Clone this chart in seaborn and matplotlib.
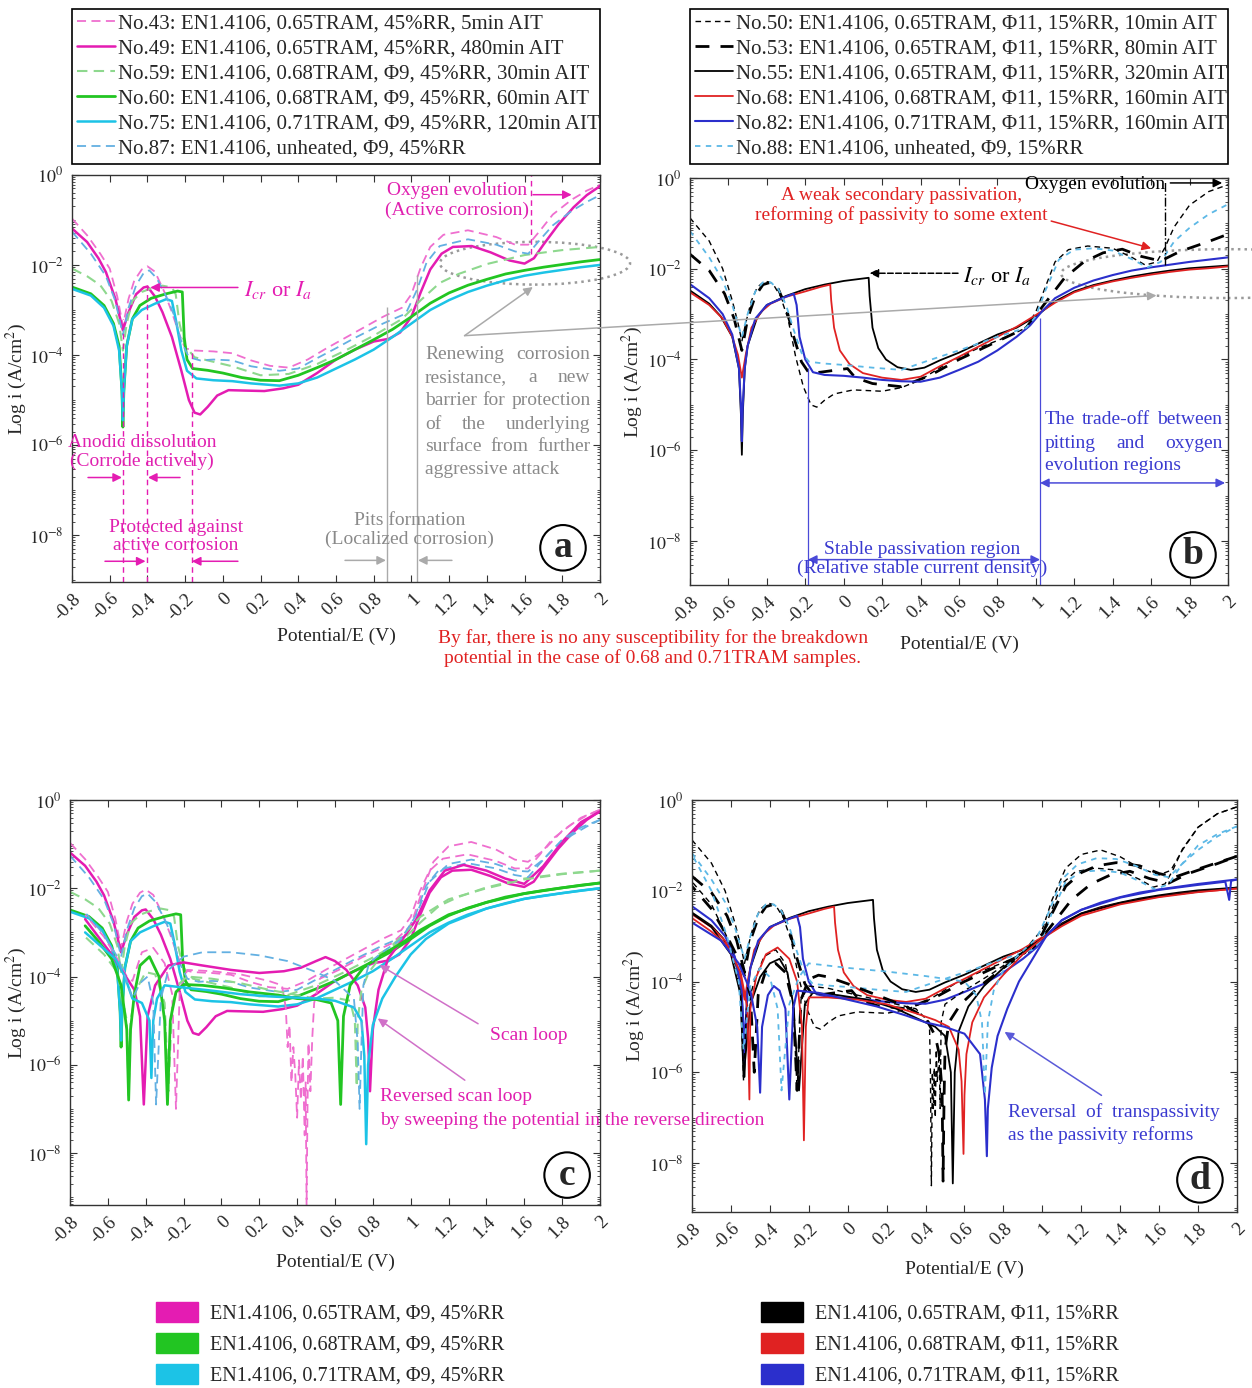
import numpy as np
import pandas as pd
import matplotlib
matplotlib.use('Agg')
import matplotlib.pyplot as plt
import seaborn as sns
from matplotlib.lines import Line2D
from matplotlib.patches import Patch, Ellipse, ConnectionPatch
from matplotlib.ticker import FixedLocator, LogLocator, NullFormatter

# ---------------- data: (potential E [V], log10 i [A/cm2]) ----------------
A43 = [(-0.8,-0.97),(-0.72,-1.34),(-0.65,-1.75),(-0.6,-2.08),(-0.56,-2.7),(-0.53,-3.35),(-0.5,-2.75),(-0.47,-2.35),
       (-0.43,-2.1),(-0.40,-2.03),(-0.36,-2.15),(-0.31,-2.6),(-0.27,-3.05),(-0.23,-3.55),(-0.2,-3.85),(-0.15,-3.9),
       (-0.05,-3.92),(0.05,-3.96),(0.15,-4.12),(0.25,-4.24),(0.35,-4.28),(0.45,-4.1),(0.55,-3.85),(0.7,-3.5),
       (0.85,-3.15),(0.95,-2.95),(1.0,-2.65),(1.05,-2.05),(1.1,-1.6),(1.17,-1.33),(1.3,-1.23),(1.45,-1.38),
       (1.55,-1.55),(1.62,-1.55),(1.68,-1.25),(1.75,-0.88),(1.85,-0.55),(1.93,-0.35),(2.0,-0.22)]
A49 = [(-0.8,-1.19),(-0.72,-1.49),(-0.66,-1.85),(-0.62,-2.16),(-0.57,-2.75),(-0.53,-3.45),(-0.5,-3.05),(-0.46,-2.65),
       (-0.42,-2.5),(-0.40,-2.48),(-0.36,-2.7),(-0.32,-3.05),(-0.27,-3.6),(-0.22,-4.35),(-0.18,-5.0),(-0.15,-5.28),
       (-0.12,-5.32),(-0.08,-5.15),(-0.03,-4.9),(0.03,-4.78),(0.12,-4.79),(0.22,-4.8),(0.32,-4.74),(0.4,-4.66),
       (0.5,-4.4),(0.6,-4.1),(0.7,-3.88),(0.8,-3.7),(0.88,-3.64),(0.94,-3.5),(1.0,-3.15),(1.05,-2.6),(1.1,-2.1),
       (1.16,-1.75),(1.22,-1.6),(1.32,-1.58),(1.42,-1.72),(1.52,-1.9),(1.6,-1.97),(1.65,-1.85),(1.7,-1.55),
       (1.78,-1.1),(1.86,-0.72),(1.93,-0.45),(2.0,-0.25)]
A59 = [(-0.8,-2.08),(-0.72,-2.25),(-0.65,-2.45),(-0.59,-2.8),(-0.55,-3.3),(-0.53,-3.9),(-0.51,-3.3),(-0.48,-2.8),
       (-0.43,-2.6),(-0.38,-2.52),(-0.32,-2.46),(-0.27,-2.5),(-0.25,-2.65),(-0.23,-3.3),(-0.2,-3.8),(-0.15,-4.05),
       (-0.05,-4.15),(0.05,-4.25),(0.2,-4.45),(0.35,-4.42),(0.5,-4.2),(0.65,-3.9),(0.8,-3.57),(0.95,-3.2),
       (1.05,-2.78),(1.15,-2.4),(1.25,-2.2),(1.4,-1.98),(1.6,-1.78),(1.8,-1.67),(2.0,-1.6)]
A60 = [(-0.8,-2.49),(-0.7,-2.64),(-0.63,-2.9),(-0.58,-3.3),(-0.55,-3.8),(-0.535,-4.8),(-0.53,-5.6),(-0.525,-4.8),
       (-0.51,-3.8),(-0.48,-3.2),(-0.44,-2.9),(-0.38,-2.74),(-0.3,-2.64),(-0.24,-2.58),(-0.215,-2.6),(-0.205,-3.6),
       (-0.19,-4.1),(-0.16,-4.3),(-0.08,-4.34),(0.0,-4.4),(0.1,-4.5),(0.2,-4.56),(0.3,-4.57),(0.4,-4.45),(0.5,-4.28),
       (0.6,-4.1),(0.7,-3.88),(0.8,-3.66),(0.9,-3.43),(1.0,-3.15),(1.1,-2.85),(1.2,-2.62),(1.3,-2.45),(1.4,-2.32),
       (1.5,-2.2),(1.6,-2.12),(1.7,-2.05),(1.8,-1.99),(1.9,-1.93),(2.0,-1.88)]
A75 = [(-0.8,-2.53),(-0.7,-2.68),(-0.63,-2.95),(-0.58,-3.35),(-0.55,-3.9),(-0.535,-4.8),(-0.53,-5.45),(-0.525,-4.8),
       (-0.51,-3.8),(-0.48,-3.2),(-0.43,-3.0),(-0.36,-2.86),(-0.3,-2.76),(-0.27,-2.8),(-0.25,-3.2),(-0.22,-3.9),
       (-0.19,-4.35),(-0.14,-4.52),(-0.05,-4.56),(0.05,-4.58),(0.15,-4.63),(0.3,-4.68),(0.4,-4.63),(0.5,-4.5),
       (0.6,-4.3),(0.7,-4.1),(0.8,-3.88),(0.9,-3.6),(1.0,-3.3),(1.1,-3.0),(1.2,-2.78),(1.3,-2.6),(1.4,-2.46),
       (1.5,-2.34),(1.6,-2.24),(1.7,-2.17),(1.8,-2.11),(1.9,-2.05),(2.0,-2.0)]
A87 = [(-0.8,-1.26),(-0.7,-1.75),(-0.62,-2.25),(-0.57,-2.8),(-0.53,-3.55),(-0.5,-2.95),(-0.46,-2.45),(-0.42,-2.18),
       (-0.39,-2.12),(-0.35,-2.3),(-0.3,-2.7),(-0.26,-3.1),(-0.22,-3.7),(-0.18,-4.05),(-0.12,-4.12),(-0.05,-4.1),
       (0.05,-4.12),(0.15,-4.25),(0.3,-4.35),(0.4,-4.3),(0.5,-4.07),(0.6,-3.85),(0.7,-3.62),(0.85,-3.3),(0.97,-3.08),
       (1.03,-2.55),(1.08,-1.95),(1.15,-1.58),(1.3,-1.43),(1.45,-1.55),(1.55,-1.7),(1.62,-1.75),(1.68,-1.45),
       (1.75,-1.12),(1.85,-0.8),(1.93,-0.6),(2.0,-0.45)]

B50 = [(-0.8,-0.88),(-0.7,-1.39),(-0.63,-2.0),(-0.58,-2.7),(-0.55,-3.2),(-0.53,-3.6),(-0.51,-3.2),(-0.48,-2.7),
       (-0.45,-2.41),(-0.41,-2.27),(-0.37,-2.32),(-0.33,-2.6),(-0.29,-3.1),(-0.25,-3.94),(-0.21,-4.6),(-0.17,-5.0),
       (-0.14,-5.05),(-0.1,-4.9),(-0.05,-4.76),(0.05,-4.67),(0.2,-4.7),(0.3,-4.62),(0.4,-4.45),(0.55,-4.05),
       (0.7,-3.75),(0.85,-3.5),(0.95,-3.3),(1.0,-2.95),(1.05,-2.4),(1.1,-1.85),(1.17,-1.58),(1.27,-1.5),(1.4,-1.55),
       (1.5,-1.75),(1.57,-1.92),(1.63,-1.85),(1.67,-1.55),(1.72,-1.08),(1.8,-0.6),(1.9,-0.3),(2.0,-0.15)]
B53 = [(-0.8,-1.68),(-0.7,-2.04),(-0.62,-2.55),(-0.57,-3.1),(-0.53,-3.8),(-0.5,-3.1),(-0.46,-2.6),(-0.42,-2.35),
       (-0.38,-2.3),(-0.34,-2.45),(-0.3,-2.85),(-0.26,-3.5),(-0.22,-4.05),(-0.18,-4.3),(-0.12,-4.28),(-0.05,-4.24),
       (0.02,-4.2),(0.06,-4.4),(0.15,-4.53),(0.3,-4.6),(0.45,-4.35),(0.6,-4.0),(0.8,-3.6),(0.95,-3.3),(1.05,-2.75),
       (1.15,-2.2),(1.25,-1.85),(1.35,-1.65),(1.45,-1.57),(1.55,-1.73),(1.65,-1.83),(1.75,-1.62),(1.9,-1.4),(2.0,-1.24)]
B55 = [(-0.8,-2.48),(-0.7,-2.77),(-0.64,-3.05),(-0.58,-3.5),(-0.545,-4.2),(-0.535,-5.2),(-0.53,-6.1),(-0.525,-5.2),
       (-0.515,-4.2),(-0.5,-3.7),(-0.45,-3.07),(-0.4,-2.8),(-0.3,-2.6),(-0.2,-2.45),(-0.1,-2.35),(0.0,-2.27),
       (0.13,-2.2),(0.135,-2.6),(0.15,-3.3),(0.18,-3.75),(0.22,-4.0),(0.28,-4.17),(0.35,-4.23),(0.42,-4.18),
       (0.5,-4.02),(0.6,-3.85),(0.7,-3.65),(0.8,-3.45),(0.9,-3.3),(1.0,-3.05),(1.1,-2.72),(1.2,-2.5),(1.3,-2.36),
       (1.4,-2.26),(1.5,-2.17),(1.6,-2.1),(1.7,-2.04),(1.8,-1.99),(1.9,-1.96),(2.0,-1.93)]
B68 = [(-0.8,-2.52),(-0.7,-2.8),(-0.63,-3.1),(-0.58,-3.5),(-0.55,-3.9),(-0.53,-4.4),(-0.51,-3.9),(-0.48,-3.3),
       (-0.43,-2.95),(-0.38,-2.77),(-0.3,-2.62),(-0.2,-2.5),(-0.12,-2.4),(-0.07,-2.35),(-0.065,-2.7),(-0.05,-3.3),
       (-0.02,-3.8),(0.03,-4.1),(0.1,-4.3),(0.2,-4.4),(0.3,-4.45),(0.4,-4.38),(0.5,-4.15),(0.6,-3.94),(0.7,-3.72),
       (0.8,-3.5),(0.9,-3.28),(1.0,-3.02),(1.1,-2.75),(1.2,-2.52),(1.3,-2.38),(1.4,-2.28),(1.5,-2.2),(1.6,-2.13),
       (1.7,-2.07),(1.8,-2.02),(1.9,-1.99),(2.0,-1.95)]
B82 = [(-0.8,-2.34),(-0.7,-2.65),(-0.63,-3.0),(-0.58,-3.45),(-0.545,-4.2),(-0.535,-5.0),(-0.53,-5.8),(-0.525,-5.0),
       (-0.515,-4.2),(-0.5,-3.7),(-0.46,-3.1),(-0.4,-2.8),(-0.32,-2.65),(-0.26,-2.55),(-0.245,-2.8),(-0.23,-3.5),
       (-0.2,-4.0),(-0.16,-4.28),(-0.1,-4.34),(0.0,-4.36),(0.1,-4.4),(0.2,-4.45),(0.3,-4.48),(0.4,-4.49),(0.5,-4.4),
       (0.6,-4.23),(0.7,-4.05),(0.8,-3.8),(0.9,-3.5),(0.97,-3.25),(1.03,-2.95),(1.1,-2.65),(1.2,-2.42),(1.3,-2.26),
       (1.4,-2.14),(1.5,-2.04),(1.6,-1.97),(1.7,-1.91),(1.8,-1.85),(1.9,-1.8),(2.0,-1.75)]
B88 = [(-0.8,-1.17),(-0.7,-1.75),(-0.63,-2.25),(-0.58,-2.8),(-0.53,-3.5),(-0.5,-3.0),(-0.46,-2.5),(-0.42,-2.3),
       (-0.38,-2.3),(-0.34,-2.45),(-0.3,-2.8),(-0.26,-3.35),(-0.22,-3.85),(-0.18,-4.05),(-0.1,-4.09),(0.0,-4.12),
       (0.15,-4.18),(0.3,-4.23),(0.45,-4.01),(0.6,-3.8),(0.8,-3.5),(0.95,-3.3),(1.0,-3.05),(1.05,-2.48),(1.12,-1.8),
       (1.2,-1.58),(1.3,-1.55),(1.4,-1.6),(1.5,-1.79),(1.58,-1.97),(1.65,-1.85),(1.72,-1.4),(1.8,-1.1),(1.9,-0.8),
       (2.0,-0.58)]

# reverse scans (panel c: 9 mm samples, panel d: 11 mm samples)
C43R = [(2.0,-0.22),(1.9,-0.4),(1.8,-0.7),(1.7,-1.15),(1.62,-1.4),(1.55,-1.35),(1.45,-1.12),(1.32,-0.95),(1.2,-1.05),
        (1.12,-1.4),(1.05,-2.2),(1.0,-2.85),(0.9,-3.25),(0.75,-3.55),(0.62,-3.85),(0.52,-4.05),(0.49,-4.6),(0.48,-5.4),
        (0.47,-6.6),(0.46,-5.5),(0.455,-6.9),(0.45,-9.2),(0.445,-6.4),(0.44,-7.6),(0.43,-5.8),(0.42,-6.8),(0.41,-5.9),
        (0.4,-7.2),(0.39,-6.2),(0.38,-5.6),(0.37,-6.4),(0.36,-5.1),(0.35,-5.6),(0.34,-4.7),(0.32,-4.2),(0.25,-4.1),
        (0.1,-3.95),(-0.05,-3.88),(-0.18,-3.85),(-0.22,-4.3),(-0.24,-7.0),(-0.26,-4.4),(-0.3,-3.7),(-0.36,-3.35),
        (-0.42,-3.45),(-0.47,-4.1),(-0.5,-4.0),(-0.55,-3.6),(-0.62,-3.1),(-0.72,-2.6)]
C49R = [(2.0,-0.26),(1.9,-0.5),(1.8,-0.95),(1.7,-1.5),(1.6,-1.9),(1.5,-1.78),(1.4,-1.6),(1.28,-1.47),(1.18,-1.6),
        (1.1,-2.05),(1.03,-2.7),(0.95,-3.2),(0.88,-3.6),(0.83,-4.3),(0.8,-5.2),(0.785,-6.6),(0.775,-5.4),(0.76,-4.7),
        (0.72,-4.2),(0.66,-3.85),(0.6,-3.65),(0.55,-3.56),(0.5,-3.65),(0.42,-3.8),(0.33,-3.88),(0.2,-3.92),
        (0.05,-3.85),(-0.1,-3.75),(-0.2,-3.68),(-0.28,-3.75),(-0.35,-4.2),(-0.39,-4.9),(-0.41,-6.9),(-0.43,-4.9),
        (-0.46,-4.3),(-0.52,-3.9),(-0.58,-3.5),(-0.65,-3.1),(-0.72,-2.7)]
C59R = [(2.0,-1.6),(1.8,-1.68),(1.6,-1.8),(1.4,-2.0),(1.2,-2.25),(1.05,-2.65),(0.95,-3.1),(0.85,-3.5),(0.78,-3.9),
        (0.74,-4.3),(0.72,-5.0),(0.715,-6.5),(0.705,-5.0),(0.68,-4.55),(0.6,-4.48),(0.5,-4.5),(0.4,-4.42),(0.25,-4.3),
        (0.1,-4.15),(-0.05,-4.05),(-0.18,-4.0),(-0.22,-4.15),(-0.26,-4.6),(-0.28,-6.6),(-0.3,-4.6),(-0.35,-3.95),
        (-0.4,-3.9),(-0.45,-4.3),(-0.48,-5.0),(-0.49,-6.7),(-0.5,-5.0),(-0.55,-3.9),(-0.62,-3.5),(-0.72,-3.1)]
C60R = [(2.0,-1.88),(1.8,-1.99),(1.6,-2.12),(1.4,-2.32),(1.2,-2.6),(1.05,-2.95),(0.95,-3.25),(0.85,-3.5),(0.75,-3.8),
        (0.68,-4.2),(0.645,-4.9),(0.63,-6.9),(0.615,-5.0),(0.58,-4.6),(0.5,-4.52),(0.4,-4.5),(0.3,-4.42),(0.15,-4.35),
        (0.0,-4.25),(-0.1,-4.2),(-0.2,-4.18),(-0.24,-4.35),(-0.27,-5.0),(-0.285,-6.9),(-0.3,-5.0),(-0.33,-4.0),
        (-0.38,-3.55),(-0.43,-3.75),(-0.46,-4.4),(-0.48,-5.2),(-0.49,-6.8),(-0.5,-5.2),(-0.53,-4.2),(-0.58,-3.6),
        (-0.65,-3.2),(-0.72,-2.85)]
C75R = [(2.0,-2.0),(1.8,-2.11),(1.6,-2.24),(1.4,-2.46),(1.2,-2.8),(1.08,-3.15),(1.0,-3.5),(0.92,-4.0),(0.85,-4.5),
        (0.8,-5.1),(0.775,-6.0),(0.765,-7.8),(0.755,-5.8),(0.74,-5.0),(0.7,-4.7),(0.6,-4.55),(0.5,-4.5),(0.4,-4.48),
        (0.25,-4.45),(0.1,-4.4),(-0.05,-4.32),(-0.2,-4.25),(-0.3,-4.2),(-0.34,-4.5),(-0.36,-5.0),(-0.37,-6.3),
        (-0.38,-5.0),(-0.42,-4.6),(-0.47,-4.5),(-0.51,-4.0),(-0.56,-3.6),(-0.64,-3.3),(-0.72,-3.0)]
C87R = [(2.0,-0.45),(1.9,-0.62),(1.8,-0.9),(1.7,-1.35),(1.62,-1.62),(1.55,-1.6),(1.45,-1.45),(1.32,-1.35),(1.2,-1.45),
        (1.1,-1.85),(1.03,-2.6),(0.95,-3.15),(0.85,-3.45),(0.78,-3.7),(0.75,-4.2),(0.74,-5.5),(0.73,-7.0),(0.72,-5.5),
        (0.7,-4.5),(0.6,-4.1),(0.5,-3.9),(0.35,-3.65),(0.2,-3.52),(0.05,-3.45),(-0.1,-3.45),(-0.2,-3.55),(-0.28,-3.85),
        (-0.32,-4.5),(-0.345,-6.9),(-0.36,-4.6),(-0.39,-4.0),(-0.43,-4.15),(-0.47,-4.5),(-0.5,-4.1),(-0.55,-3.55),
        (-0.63,-3.0),(-0.72,-2.55)]

D50R = [(2.0,-0.15),(1.9,-0.3),(1.8,-0.6),(1.72,-1.1),(1.66,-1.55),(1.6,-1.65),(1.5,-1.5),(1.4,-1.25),(1.3,-1.1),
        (1.2,-1.2),(1.12,-1.5),(1.05,-2.2),(1.0,-2.85),(0.9,-3.35),(0.75,-3.8),(0.6,-4.2),(0.5,-4.5),(0.48,-4.9),
        (0.475,-6.8),(0.47,-5.6),(0.46,-6.2),(0.455,-5.5),(0.45,-7.0),(0.445,-5.9),(0.44,-6.8),(0.435,-6.0),
        (0.43,-8.5),(0.425,-6.0),(0.42,-4.9),(0.35,-4.6),(0.2,-4.45),(0.05,-4.3),(-0.1,-4.15),(-0.2,-4.1),(-0.24,-4.4),
        (-0.26,-6.4),(-0.28,-4.5),(-0.32,-3.6),(-0.37,-3.3),(-0.43,-3.45),(-0.48,-4.0),(-0.52,-4.6),(-0.535,-6.2),
        (-0.55,-4.3),(-0.6,-3.2),(-0.7,-2.3),(-0.8,-1.8)]
D53R = [(2.0,-1.24),(1.9,-1.38),(1.78,-1.55),(1.68,-1.7),(1.6,-1.62),(1.5,-1.45),(1.38,-1.38),(1.28,-1.45),(1.2,-1.6),
        (1.12,-1.9),(1.05,-2.5),(1.0,-2.95),(0.9,-3.4),(0.8,-3.7),(0.68,-4.1),(0.58,-4.5),(0.52,-4.9),(0.5,-5.5),
        (0.495,-6.6),(0.49,-8.4),(0.485,-6.4),(0.47,-5.6),(0.45,-5.2),(0.4,-4.8),(0.3,-4.55),(0.15,-4.3),(0.0,-4.05),
        (-0.1,-3.9),(-0.15,-3.86),(-0.2,-3.95),(-0.24,-4.4),(-0.26,-6.4),(-0.28,-4.5),(-0.32,-3.8),(-0.37,-3.6),
        (-0.42,-3.75),(-0.46,-4.3),(-0.48,-6.0),(-0.5,-4.3),(-0.55,-3.6),(-0.62,-3.0),(-0.7,-2.4),(-0.8,-1.9)]
D55R = [(2.0,-1.93),(1.8,-2.02),(1.6,-2.12),(1.4,-2.27),(1.2,-2.5),(1.1,-2.75),(1.0,-3.05),(0.9,-3.35),(0.8,-3.7),
        (0.7,-4.1),(0.62,-4.55),(0.57,-5.1),(0.55,-6.0),(0.54,-8.45),(0.53,-6.0),(0.5,-5.2),(0.45,-5.0),(0.35,-4.8),
        (0.25,-4.6),(0.1,-4.4),(-0.05,-4.3),(-0.18,-4.25),(-0.22,-4.5),(-0.25,-6.4),(-0.28,-4.5),(-0.31,-3.8),
        (-0.35,-3.5),(-0.4,-3.6),(-0.45,-3.9),(-0.5,-4.5),(-0.535,-6.1),(-0.55,-4.3),(-0.6,-3.4),(-0.7,-2.8),(-0.8,-2.5)]
D68R = [(2.0,-1.95),(1.8,-2.03),(1.6,-2.14),(1.4,-2.3),(1.2,-2.55),(1.1,-2.78),(1.0,-3.05),(0.9,-3.4),(0.8,-3.85),
        (0.7,-4.35),(0.64,-4.9),(0.61,-5.6),(0.6,-6.5),(0.595,-7.8),(0.585,-6.2),(0.57,-5.5),(0.52,-5.0),(0.45,-4.85),
        (0.35,-4.7),(0.2,-4.5),(0.05,-4.4),(-0.1,-4.35),(-0.2,-4.35),(-0.215,-5.0),(-0.225,-7.5),(-0.235,-5.0),
        (-0.26,-4.0),(-0.3,-3.5),(-0.36,-3.25),(-0.42,-3.4),(-0.47,-3.9),(-0.5,-4.6),(-0.505,-6.6),(-0.515,-4.6),
        (-0.55,-3.8),(-0.62,-3.2),(-0.7,-2.9),(-0.8,-2.6)]
D82R = [(2.0,-1.75),(1.97,-1.78),(1.96,-2.2),(1.94,-1.8),(1.8,-1.87),(1.6,-1.98),(1.4,-2.15),(1.2,-2.42),(1.1,-2.65),
        (1.02,-3.0),(0.95,-3.5),(0.88,-4.0),(0.82,-4.6),(0.77,-5.2),(0.74,-5.9),(0.72,-6.8),(0.715,-7.85),(0.705,-6.6),
        (0.68,-5.6),(0.6,-5.15),(0.5,-5.0),(0.4,-4.9),(0.3,-4.75),(0.15,-4.55),(0.0,-4.4),(-0.15,-4.25),(-0.26,-4.2),
        (-0.28,-4.6),(-0.3,-6.6),(-0.32,-4.6),(-0.35,-4.2),(-0.38,-4.1),(-0.41,-4.3),(-0.44,-5.0),(-0.45,-6.45),
        (-0.465,-5.0),(-0.5,-4.2),(-0.56,-3.6),(-0.65,-3.1),(-0.8,-2.7)]
D88R = [(2.0,-0.58),(1.9,-0.75),(1.8,-1.0),(1.72,-1.4),(1.65,-1.7),(1.58,-1.65),(1.48,-1.45),(1.38,-1.3),(1.28,-1.28),
        (1.18,-1.42),(1.1,-1.75),(1.03,-2.5),(0.97,-3.05),(0.88,-3.4),(0.8,-3.75),(0.75,-4.2),(0.72,-4.9),(0.705,-6.5),
        (0.69,-4.9),(0.66,-4.3),(0.6,-4.0),(0.4,-3.88),(0.2,-3.78),(0.0,-3.7),(-0.2,-3.6),(-0.25,-3.9),(-0.3,-4.5),
        (-0.34,-6.4),(-0.36,-4.6),(-0.4,-3.9),(-0.45,-3.7),(-0.5,-4.1),(-0.535,-5.5),(-0.56,-4.0),(-0.62,-3.0),
        (-0.7,-2.0),(-0.8,-1.2)]

LABELS_A = ["No.43: EN1.4106, 0.65TRAM, 45%RR, 5min AIT",
            "No.49: EN1.4106, 0.65TRAM, 45%RR, 480min AIT",
            "No.59: EN1.4106, 0.68TRAM, Φ9, 45%RR, 30min AIT",
            "No.60: EN1.4106, 0.68TRAM, Φ9, 45%RR, 60min AIT",
            "No.75: EN1.4106, 0.71TRAM, Φ9, 45%RR, 120min AIT",
            "No.87: EN1.4106, unheated, Φ9, 45%RR"]
LABELS_B = ["No.50: EN1.4106, 0.65TRAM, Φ11, 15%RR, 10min AIT",
            "No.53: EN1.4106, 0.65TRAM, Φ11, 15%RR, 80min AIT",
            "No.55: EN1.4106, 0.65TRAM, Φ11, 15%RR, 320min AIT",
            "No.68: EN1.4106, 0.68TRAM, Φ11, 15%RR, 160min AIT",
            "No.82: EN1.4106, 0.71TRAM, Φ11, 15%RR, 160min AIT",
            "No.88: EN1.4106, unheated, Φ9, 15%RR"]
GROUP_LEFT = ["EN1.4106, 0.65TRAM, Φ9, 45%RR", "EN1.4106, 0.68TRAM, Φ9, 45%RR", "EN1.4106, 0.71TRAM, Φ9, 45%RR"]
GROUP_RIGHT = ["EN1.4106, 0.65TRAM, Φ11, 15%RR", "EN1.4106, 0.68TRAM, Φ11, 15%RR", "EN1.4106, 0.71TRAM, Φ11, 15%RR"]

XTICKS = [-0.8, -0.6, -0.4, -0.2, 0, 0.2, 0.4, 0.6, 0.8, 1, 1.2, 1.4, 1.6, 1.8, 2]
XTICK_LABELS = ['-0.8', '-0.6', '-0.4', '-0.2', '0', '0.2', '0.4', '0.6', '0.8', '1', '1.2', '1.4', '1.6', '1.8', '2']
YTICKS = [1, 1e-2, 1e-4, 1e-6, 1e-8]
YTICK_LABELS = [r'$10^{0}$', r'$10^{-2}$', r'$10^{-4}$', r'$10^{-6}$', r'$10^{-8}$']

# ---------------- styles ----------------
MAG, MAG_L = '#e41cb2', '#ef6fcf'
GRN, GRN_L = '#22c522', '#8ed88e'
CYA, BLU_L = '#1cc3e6', '#63b0e2'
RED, BLU, SKY = '#e02222', '#2b2fcc', '#5cb8e6'
PINK_TXT, GRAY_TXT, BLUE_TXT = '#e020b0', '#8a8a8a', '#3a3ad0'
BLUE_LINE = '#4a4ad8'

STYLE_A = [(MAG_L, (0, (5, 3)), 1.3), (MAG, '-', 1.8), (GRN_L, (0, (5, 3)), 1.5),
           (GRN, '-', 2.0), (CYA, '-', 1.8), (BLU_L, (0, (5, 3)), 1.3)]
STYLE_B = [('black', (0, (4, 3)), 1.0), ('black', (0, (5, 4)), 2.0), ('black', '-', 1.3),
           (RED, '-', 1.3), (BLU, '-', 1.5), (SKY, (0, (3, 3)), 1.3)]

sns.set_style('ticks')
plt.rcParams['font.family'] = ['Liberation Serif', 'DejaVu Serif']
plt.rcParams['mathtext.fontset'] = 'stix'

fig = plt.figure(figsize=(12.52, 13.88), dpi=100)
ax_a = fig.add_axes([0.0575, 0.5807, 0.4217, 0.2933])
ax_b = fig.add_axes([0.5511, 0.5785, 0.4297, 0.2933])
ax_c = fig.add_axes([0.0559, 0.1318, 0.4233, 0.2918])
ax_d = fig.add_axes([0.5527, 0.1268, 0.4353, 0.2968])
ax_c.set_zorder(3)   # its long annotation runs over panel d


def curve(ax, pts, style):
    color, ls, lw = style
    df = pd.DataFrame(pts, columns=['E', 'logi'])
    df['i'] = 10.0 ** df['logi']
    sns.lineplot(data=df, x='E', y='i', sort=False, estimator=None, color=color,
                 linewidth=lw, linestyle=ls, ax=ax, legend=False)


def setup(ax, ylow, ylab_x, xlab_y):
    ax.set_yscale('log')
    ax.set_xlim(-0.8, 2.0)
    ax.set_ylim(10 ** ylow, 1)
    ax.set_xticks(XTICKS)
    ax.set_xticklabels(XTICK_LABELS, rotation=45, ha='right', va='top', rotation_mode='anchor', fontsize=13.5)
    ax.yaxis.set_major_locator(FixedLocator(YTICKS))
    ax.set_yticklabels(YTICK_LABELS, fontsize=13)
    ax.yaxis.set_minor_locator(LogLocator(base=10, subs=np.arange(1, 10), numticks=200))
    ax.yaxis.set_minor_formatter(NullFormatter())
    ax.tick_params(which='both', direction='in', top=True, right=True, color='#333333')
    ax.tick_params(which='major', length=5, pad=6)
    ax.tick_params(which='minor', length=2.5)
    for s in ax.spines.values():
        s.set_linewidth(1.0)
        s.set_color('#333333')
    ax.set_xlabel('Potential/E (V)', fontsize=14)
    ax.set_ylabel(r'Log i (A/cm$^2$)', fontsize=14)
    ax.xaxis.set_label_coords(0.5, xlab_y)
    ax.yaxis.set_label_coords(ylab_x, 0.5)


def tag(ax, letter, x, y):
    ax.text(x, y, letter, transform=ax.transAxes, fontsize=27, fontweight='bold', ha='center', va='center',
            bbox=dict(boxstyle='circle,pad=0.14', fc='white', ec='black', lw=1.5), zorder=10)


def arrow(ax, xy, xytext, color, ls='-', lw=1.1, style='-|>'):
    ax.annotate('', xy=(xy[0], 10 ** xy[1]), xytext=(xytext[0], 10 ** xytext[1]),
                arrowprops=dict(arrowstyle=style, color=color, lw=lw, linestyle=ls,
                                mutation_scale=13, shrinkA=0, shrinkB=0))


for ax in (ax_a, ax_b, ax_c, ax_d):
    ax.set_yscale('log')

# forward scans
for pts, st in zip([A43, A49, A59, A60, A75, A87], STYLE_A):
    curve(ax_a, pts, st)
    curve(ax_c, pts, st)
for pts, st in zip([B50, B53, B55, B68, B82, B88], STYLE_B):
    curve(ax_b, pts, st)
    curve(ax_d, pts, st)
# reverse scans
for pts, st in zip([C43R, C49R, C59R, C60R, C75R, C87R], STYLE_A):
    curve(ax_c, pts, st)
for pts, st in zip([D50R, D53R, D55R, D68R, D82R, D88R], STYLE_B):
    curve(ax_d, pts, st)

setup(ax_a, -9.04, -0.081, -0.113)
setup(ax_b, -8.97, -0.084, -0.125)
setup(ax_c, -9.18, -0.077, -0.121)
setup(ax_d, -9.08, -0.082, -0.119)

# ---------------- legends ----------------
handles_a = [Line2D([], [], color=c, linestyle=l, lw=w) for c, l, w in STYLE_A]
handles_b = [Line2D([], [], color=c, linestyle=l, lw=w) for c, l, w in STYLE_B]
leg_kw = dict(loc='upper left', mode='expand', fontsize=15, handlelength=1.8, handletextpad=0.15,
              labelspacing=0.26, borderaxespad=0, borderpad=0.25, fancybox=False, edgecolor='black',
              framealpha=1)
la = fig.legend(handles_a, LABELS_A, bbox_to_anchor=(72 / 1252, 1 - 10 / 1388, 528 / 1252, 0.001), **leg_kw)
lb = fig.legend(handles_b, LABELS_B, bbox_to_anchor=(690 / 1252, 1 - 10 / 1388, 538 / 1252, 0.001), **leg_kw)
for lg in (la, lb):
    lg.get_frame().set_linewidth(1.2)

patch_kw = dict(loc='center left', frameon=False, fontsize=14.5, handlelength=2.1, handleheight=1.15,
                handletextpad=0.6, labelspacing=0.45, borderaxespad=0)
fig.legend([Patch(fc=c, ec=c) for c in [MAG, GRN, CYA]], GROUP_LEFT,
           bbox_to_anchor=(148 / 1252, 1 - 1344 / 1388), **patch_kw)
fig.legend([Patch(fc=c, ec=c) for c in ['black', RED, BLU]], GROUP_RIGHT,
           bbox_to_anchor=(753 / 1252, 1 - 1344 / 1388), **patch_kw)

# ---------------- panel a annotations ----------------
fs = 14
for e, top in [(-0.53, -3.2), (-0.40, -2.45), (-0.165, -3.87)]:
    ax_a.vlines(e, 10 ** -9.04, 10 ** top, colors=MAG, linestyles=(0, (4, 3)), lw=1.0)
ax_a.vlines(1.635, 10 ** -1.75, 1, colors=MAG, linestyles=(0, (4, 3)), lw=1.0)
ax_a.vlines(0.87, 10 ** -9.04, 10 ** -2.94, colors='#aaaaaa', lw=1.0)
ax_a.vlines(1.03, 10 ** -9.04, 10 ** -2.23, colors='#aaaaaa', lw=1.0)
arrow(ax_a, (-0.385, -2.5), (0.08, -2.5), MAG)
ax_a.text(0.11, 10 ** -2.56, r'$I_{cr}$ or $I_{a}$', color=MAG, fontsize=16, ha='left', va='center')
ax_a.text(1.24, 10 ** -0.57, 'Oxygen evolution\n(Active corrosion)', color=PINK_TXT, fontsize=fs,
          ha='center', va='center', linespacing=1.15)
arrow(ax_a, (1.85, -0.44), (1.645, -0.44), MAG)
ax_a.text(-0.43, 10 ** -6.15, 'Anodic dissolution\n(Corrode actively)', color=PINK_TXT, fontsize=fs,
          ha='center', va='center', linespacing=1.15)
arrow(ax_a, (-0.535, -6.72), (-0.715, -6.72), MAG)
arrow(ax_a, (-0.397, -6.72), (-0.227, -6.72), MAG)
ax_a.text(-0.25, 10 ** -8.03, 'Protected against\nactive corrosion', color=PINK_TXT, fontsize=fs,
          ha='center', va='center', linespacing=1.15)
arrow(ax_a, (-0.41, -8.58), (-0.625, -8.58), MAG)
arrow(ax_a, (-0.164, -8.58), (0.08, -8.58), MAG)
ax_a.text(0.99, 10 ** -7.88, 'Pits formation\n(Localized corrosion)', color=GRAY_TXT, fontsize=fs,
          ha='center', va='center', linespacing=1.15)
arrow(ax_a, (0.865, -8.56), (0.648, -8.56), '#aaaaaa')
arrow(ax_a, (1.035, -8.56), (1.215, -8.56), '#aaaaaa')
ax_a.add_patch(Ellipse((0.877, 0.783), 0.36, 0.105, transform=ax_a.transAxes, fill=False,
                       ec='#9a9a9a', ls=':', lw=1.8, clip_on=False))
arrow(ax_a, (1.644, -2.49), (1.282, -3.57), '#aaaaaa')
fig.add_artist(ConnectionPatch(xyA=(1.282, 10 ** -3.57), coordsA=ax_a.transData,
                               xyB=(1.628, 10 ** -2.59), coordsB=ax_b.transData,
                               arrowstyle='-|>', color='#aaaaaa', lw=1.1, mutation_scale=13))

# ---------------- panel b annotations ----------------
ax_b.text(0.30, 10 ** -0.6, 'A weak secondary passivation,\nreforming of passivity to some extent',
          color=RED, fontsize=fs, ha='center', va='center', linespacing=1.15)
arrow(ax_b, (1.6, -1.55), (1.08, -0.95), RED)
ax_b.text(1.31, 10 ** -0.15, 'Oxygen evolution', color='black', fontsize=fs, ha='center', va='center')
ax_b.vlines(1.672, 10 ** -1.92, 10 ** -0.09, colors='black', linestyles='-.', lw=1.0)
arrow(ax_b, (1.97, -0.11), (1.70, -0.11), 'black')
arrow(ax_b, (0.135, -2.1), (0.595, -2.1), 'black', ls='--')
ax_b.text(0.62, 10 ** -2.17, r'$I_{cr}$ or $I_{a}$', color='black', fontsize=16, ha='left', va='center')
ax_b.vlines(-0.186, 10 ** -8.97, 10 ** -4.19, colors=BLUE_LINE, lw=0.9)
ax_b.vlines(1.022, 10 ** -8.97, 10 ** -3.08, colors=BLUE_LINE, lw=0.9)
arrow(ax_b, (1.985, -6.72), (1.022, -6.72), BLUE_LINE, style='<|-|>')
arrow(ax_b, (1.022, -8.41), (-0.186, -8.41), BLUE_LINE, style='<|-|>')
ax_b.text(0.407, 10 ** -8.40, 'Stable passivation region\n(Relative stable current density)',
          color=BLUE_TXT, fontsize=fs, ha='center', va='center', linespacing=1.15)
ax_b.add_patch(Ellipse((1.0, 0.765), 0.62, 0.12, transform=ax_b.transAxes, fill=False,
                       ec='#9a9a9a', ls=':', lw=1.8, clip_on=False))

# ---------------- panel c / d annotations ----------------
arrow(ax_c, (0.836, -3.74), (1.356, -5.07), '#d070c8')
arrow(ax_c, (0.826, -4.95), (1.286, -6.35), '#d070c8')
ax_c.text(1.626, 10 ** -5.33, 'Scan loop', color=PINK_TXT, fontsize=fs, ha='center', va='center')
ax_c.text(0.84, 10 ** -6.73, 'Reversed scan loop', color=PINK_TXT, fontsize=fs, ha='left', va='center')
ax_c.text(0.84, 10 ** -7.26, 'by sweeping the potential in the reverse direction', color=PINK_TXT,
          fontsize=fs, ha='left', va='center', clip_on=False, zorder=20)
arrow(ax_d, (0.806, -5.11), (1.304, -6.51), '#5a5ad8')
ax_d.text(0.826, 10 ** -6.88, 'Reversal  of  transpassivity', color=BLUE_TXT, fontsize=fs, ha='left', va='center')
ax_d.text(0.826, 10 ** -7.39, 'as the passivity reforms', color=BLUE_TXT, fontsize=fs, ha='left', va='center')

tag(ax_a, 'a', 0.93, 0.084)
tag(ax_b, 'b', 0.935, 0.074)
tag(ax_c, 'c', 0.938, 0.074)
tag(ax_d, 'd', 0.932, 0.078)

fig.text(653 / 1252, 1 - 648 / 1388,
         'By far, there is no any susceptibility for the breakdown\npotential in the case of 0.68 and 0.71TRAM samples.',
         color=RED, fontsize=14, ha='center', va='center', linespacing=1.2)


# justified gray / blue paragraphs
def justified(ax, lines, x0, x1, ys, color):
    renderer = fig.canvas.get_renderer()
    for k, (line, yl) in enumerate(zip(lines, ys)):
        words = line.split()
        y = 10 ** yl
        if k == len(lines) - 1 or len(words) == 1:
            ax.text(x0, y, line, color=color, fontsize=fs, ha='left', va='center')
            continue
        texts = [ax.text(x0, y, w, color=color, fontsize=fs, ha='left', va='center') for w in words]
        widths = [t.get_window_extent(renderer).width for t in texts]
        X0 = ax.transData.transform((x0, y))[0]
        X1 = ax.transData.transform((x1, y))[0]
        gap = (X1 - X0 - sum(widths)) / (len(words) - 1)
        pos = X0
        for t, w in zip(texts, widths):
            xd = ax.transData.inverted().transform((pos, 0))[0]
            t.set_x(xd)
            pos += w + gap


justified(ax_a, ['Renewing corrosion', 'resistance, a new', 'barrier for protection', 'of the underlying',
                 'surface from further', 'aggressive attack'],
          1.072, 1.95, [-3.98, -4.5, -5.02, -5.54, -6.04, -6.55], GRAY_TXT)
justified(ax_b, ['The trade-off between', 'pitting and oxygen', 'evolution regions'],
          1.047, 1.97, [-5.33, -5.86, -6.34], BLUE_TXT)

fig.savefig('out.png', dpi=100)
